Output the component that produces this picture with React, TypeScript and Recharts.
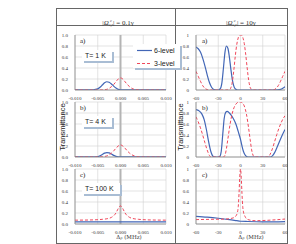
import React from 'react';
import { LineChart, Line, XAxis, YAxis, CartesianGrid, ReferenceLine } from 'recharts';

// ---------- tick labels ----------
const leftXTicks = [-0.01, -0.005, 0, 0.005, 0.01];
const rightXTicks = [-60, -30, 0, 30, 60];
const yTicks = [0, 0.2, 0.4, 0.6, 0.8, 1];
const panelLabels = ['a)', 'b)', 'c)'];
const tempLabels = ['T= 1 K', 'T= 4 K', 'T= 100 K'];
const seriesNames = ['6-level', '3-level'];
const xTitle = 'Δₚ (MHz)';

// ---------- left column (|Ω| = 0.1γ), detuning in MHz ----------
const leftA6x = [-0.01, -0.008, -0.006, -0.005, -0.0045, -0.004, -0.0035, -0.003, -0.0025, -0.002, -0.0015, -0.001, -0.0005, 0, 0.002, 0.005, 0.01];
const leftA6y = [0.002, 0.002, 0.004, 0.02, 0.05, 0.09, 0.13, 0.15, 0.14, 0.11, 0.07, 0.035, 0.012, 0.004, 0.002, 0.002, 0.002];
const leftA3x = [-0.01, -0.005, -0.004, -0.003, -0.0025, -0.002, -0.0015, -0.001, -0.0005, 0, 0.0005, 0.001, 0.0015, 0.002, 0.0025, 0.003, 0.004, 0.005, 0.01];
const leftA3y = [0, 0, 0.002, 0.012, 0.03, 0.06, 0.1, 0.15, 0.2, 0.22, 0.2, 0.15, 0.1, 0.06, 0.03, 0.012, 0.002, 0, 0];

const leftB6x = [-0.01, -0.006, -0.005, -0.0045, -0.004, -0.0035, -0.003, -0.0025, -0.002, -0.0015, -0.001, -0.0005, 0, 0.01];
const leftB6y = [0.002, 0.002, 0.008, 0.02, 0.045, 0.07, 0.08, 0.075, 0.055, 0.03, 0.012, 0.004, 0.002, 0.002];
const leftB3x = [-0.01, -0.005, -0.004, -0.003, -0.0025, -0.002, -0.0015, -0.001, -0.0005, 0, 0.0005, 0.001, 0.0015, 0.002, 0.0025, 0.003, 0.004, 0.005, 0.01];
const leftB3y = [0, 0.001, 0.005, 0.02, 0.04, 0.07, 0.11, 0.16, 0.2, 0.22, 0.2, 0.16, 0.11, 0.07, 0.04, 0.02, 0.005, 0.001, 0];

const leftC6x = [-0.01, -0.005, 0, 0.005, 0.01];
const leftC6y = [0.04, 0.04, 0.038, 0.038, 0.038];
const leftC3x = [-0.01, -0.006, -0.004, -0.003, -0.002, -0.0015, -0.001, -0.0005, 0, 0.0005, 0.001, 0.0015, 0.002, 0.003, 0.004, 0.006, 0.01];
const leftC3y = [0.07, 0.075, 0.085, 0.095, 0.12, 0.15, 0.2, 0.28, 0.33, 0.28, 0.2, 0.15, 0.12, 0.095, 0.085, 0.075, 0.07];

// ---------- right column (|Ω| = 10γ), detuning in MHz ----------
const rightA6x = [-60, -57, -54, -51, -48, -45, -42, -39, -36, -33, -30, -27, -25, -23, -21, -19, -17, -15, -13, -11, -9, -7, -5, -3, 0, 20, 40, 50, 54, 57, 60];
const rightA6y = [0.78, 0.75, 0.69, 0.58, 0.44, 0.28, 0.14, 0.05, 0.01, 0, 0, 0.03, 0.14, 0.4, 0.68, 0.8, 0.76, 0.6, 0.38, 0.19, 0.07, 0.02, 0.005, 0, 0, 0, 0, 0.002, 0.01, 0.03, 0.06];
const rightA3x = [-60, -57, -54, -51, -48, -45, -42, -40, -20, -15, -13, -11, -9, -7, -5, -3, -1, 0, 1, 3, 5, 7, 9, 11, 13, 15, 17, 20, 40, 45, 48, 51, 54, 57, 60];
const rightA3y = [0.34, 0.25, 0.16, 0.08, 0.03, 0.008, 0, 0, 0, 0.005, 0.04, 0.15, 0.36, 0.62, 0.83, 0.95, 1.0, 1.0, 1.0, 0.96, 0.85, 0.65, 0.4, 0.18, 0.05, 0.01, 0, 0, 0, 0.005, 0.03, 0.08, 0.16, 0.25, 0.34];

const rightB6x = [-60, -56, -52, -49, -46, -43, -40, -38, -36, -30, -28, -26, -24, -22, -20, -18, -15, -12, -9, -6, -3, 0, 2, 4, 6, 8, 10, 40, 43, 46, 50, 55, 60];
const rightB6y = [0.86, 0.84, 0.78, 0.68, 0.5, 0.28, 0.1, 0.03, 0.005, 0, 0.01, 0.1, 0.4, 0.7, 0.81, 0.83, 0.8, 0.75, 0.68, 0.59, 0.46, 0.32, 0.2, 0.1, 0.04, 0.01, 0, 0, 0.02, 0.08, 0.2, 0.36, 0.5];
const rightB3x = [-60, -57, -54, -51, -48, -45, -42, -40, -23, -21, -19, -17, -14, -11, -8, -5, -2, 0, 2, 5, 8, 11, 13, 15, 17, 19, 37, 40, 43, 46, 49, 52, 55, 58, 60];
const rightB3y = [0.73, 0.64, 0.53, 0.4, 0.26, 0.13, 0.03, 0, 0, 0.03, 0.15, 0.33, 0.6, 0.8, 0.92, 0.98, 1.0, 1.0, 0.99, 0.93, 0.78, 0.52, 0.32, 0.13, 0.03, 0, 0, 0.05, 0.15, 0.28, 0.41, 0.53, 0.63, 0.71, 0.75];

const rightC6x = [-60, -45, -30, -15, -5, 0, 10, 30, 45, 60];
const rightC6y = [0.14, 0.125, 0.105, 0.08, 0.06, 0.05, 0.045, 0.04, 0.04, 0.045];
const rightC3x = [-60, -40, -20, -10, -6, -4, -3, -2, -1, 0, 1, 2, 3, 4, 6, 10, 20, 40, 60];
const rightC3y = [0.08, 0.085, 0.09, 0.11, 0.15, 0.22, 0.32, 0.55, 0.85, 1.0, 0.85, 0.55, 0.32, 0.22, 0.14, 0.08, 0.06, 0.07, 0.09];

// ---------- helpers ----------
type Row = { x: number; six?: number; three?: number };
function merge(x6: number[], y6: number[], x3: number[], y3: number[]): Row[] {
  const map = new Map<number, Row>();
  x6.forEach((x, i) => {
    const r = map.get(x) || { x };
    r.six = y6[i];
    map.set(x, r);
  });
  x3.forEach((x, i) => {
    const r = map.get(x) || { x };
    r.three = y3[i];
    map.set(x, r);
  });
  return Array.from(map.values()).sort((a, b) => a.x - b.x);
}

const BLUE = '#4266b6';
const RED = '#f0475a';
const SHADOW = '#a9bdd4';
const FRAME = '#666';

const M_TOP = 4;
const X_H = 8;
const Y_W = 18;
const M_RIGHT = 10;
const PLOT_H = 55;
const PANEL_TOPS = [35, 102, 169];
const LEFT_PLOT_X = 75;
const LEFT_PLOT_W = 91;
const RIGHT_PLOT_X = 196;
const RIGHT_PLOT_W = 89;

const tickStyle = { fontSize: 5, fontFamily: 'Liberation Serif', fill: '#333' };

type PanelProps = {
  plotX: number;
  plotY: number;
  plotW: number;
  data: Row[];
  xDomain: [number, number];
  xTicks: number[];
  xFmt: (v: number) => string;
  yFmt: (v: number) => string;
  zeroLine: boolean;
};

function Panel({ plotX, plotY, plotW, data, xDomain, xTicks, xFmt, yFmt, zeroLine }: PanelProps) {
  return (
    <div style={{ position: 'absolute', left: plotX - Y_W, top: plotY - M_TOP }}>
      <LineChart
        width={Y_W + plotW + M_RIGHT}
        height={M_TOP + PLOT_H + X_H + 4}
        data={data}
        margin={{ top: M_TOP, right: M_RIGHT, bottom: 4, left: 0 }}
      >
        <CartesianGrid stroke="#d0d0d0" strokeWidth={0.6} />
        {zeroLine && <ReferenceLine x={0} stroke="#b4b4b4" strokeWidth={2} />}
        <XAxis
          dataKey="x"
          type="number"
          domain={xDomain}
          ticks={xTicks}
          tickFormatter={xFmt}
          interval={0}
          height={X_H}
          tick={tickStyle}
          tickLine={false}
          tickMargin={0}
          axisLine={{ stroke: '#888', strokeWidth: 0.8 }}
          allowDataOverflow
        />
        <YAxis
          type="number"
          domain={[0, 1]}
          ticks={yTicks}
          tickFormatter={yFmt}
          interval={0}
          width={Y_W}
          tick={tickStyle}
          tickLine={false}
          tickMargin={1}
          axisLine={{ stroke: '#888', strokeWidth: 0.8 }}
          allowDataOverflow
        />
        <Line
          dataKey="six"
          type="monotone"
          stroke={BLUE}
          strokeWidth={1.2}
          dot={false}
          connectNulls
          isAnimationActive={false}
        />
        <Line
          dataKey="three"
          type="monotone"
          stroke={RED}
          strokeWidth={1}
          strokeDasharray="3 2"
          dot={false}
          connectNulls
          isAnimationActive={false}
        />
      </LineChart>
    </div>
  );
}

const leftData = [
  merge(leftA6x, leftA6y, leftA3x, leftA3y),
  merge(leftB6x, leftB6y, leftB3x, leftB3y),
  merge(leftC6x, leftC6y, leftC3x, leftC3y),
];
const rightData = [
  merge(rightA6x, rightA6y, rightA3x, rightA3y),
  merge(rightB6x, rightB6y, rightB3x, rightB3y),
  merge(rightC6x, rightC6y, rightC3x, rightC3y),
];

const leftXFmt = (v: number) => v.toFixed(3);
const rightXFmt = (v: number) => String(v);
const leftYFmt = (v: number) => v.toFixed(1);
const rightYFmt = (v: number) => String(v);

function Omega({ value }: { value: string }) {
  return (
    <span style={{ fontFamily: 'Liberation Serif', fontSize: 7, color: '#333', whiteSpace: 'nowrap' }}>
      |<span style={{ fontStyle: 'italic' }}>Ω</span>
      <span
        style={{
          display: 'inline-flex',
          flexDirection: 'column',
          fontSize: 4,
          lineHeight: '4px',
          verticalAlign: 'middle',
          fontStyle: 'italic',
        }}
      >
        <span>c</span>
        <span>c,r</span>
      </span>
      | = {value}γ
    </span>
  );
}

function AxisTitle({ cx }: { cx: number }) {
  return (
    <div
      style={{
        position: 'absolute',
        left: cx - 20,
        top: 234,
        width: 40,
        height: 7,
        lineHeight: '7px',
        textAlign: 'center',
        fontFamily: 'DejaVu Serif',
        fontSize: 5.5,
        color: '#333',
        whiteSpace: 'nowrap',
      }}
    >
      {xTitle}
    </div>
  );
}

function TBox({ left, top, width, text }: { left: number; top: number; width: number; text: string }) {
  return (
    <div
      style={{
        position: 'absolute',
        left,
        top,
        width,
        height: 11,
        background: '#fff',
        boxShadow: `2px 2px 0 ${SHADOW}`,
        fontFamily: 'Liberation Sans',
        fontSize: 7,
        lineHeight: '11px',
        color: '#222',
        paddingLeft: 3,
        boxSizing: 'border-box',
        whiteSpace: 'nowrap',
      }}
    >
      {text}
    </div>
  );
}

export default function App() {
  const line = (s: React.CSSProperties) => (
    <div style={{ position: 'absolute', background: FRAME, ...s }} />
  );
  return (
    <div
      style={{
        position: 'absolute',
        left: 0,
        top: 0,
        width: 296,
        height: 244,
        background: '#fff',
        overflow: 'hidden',
      }}
    >
      {/* table frame */}
      {line({ left: 56, top: 8, width: 232, height: 1 })}
      {line({ left: 56, top: 25, width: 232, height: 1 })}
      {line({ left: 56, top: 8, width: 1, height: 236 })}
      {line({ left: 175, top: 8, width: 1, height: 236 })}
      {line({ left: 287, top: 8, width: 1, height: 236 })}
      {line({ left: 56, top: 243, width: 232, height: 1 })}

      <div style={{ position: 'absolute', left: 76, top: 11, width: 84, textAlign: 'center' }}>
        <Omega value="0.1" />
      </div>
      <div style={{ position: 'absolute', left: 199, top: 11, width: 84, textAlign: 'center' }}>
        <Omega value="10" />
      </div>

      {PANEL_TOPS.map((t, i) => (
        <Panel
          key={'l' + i}
          plotX={LEFT_PLOT_X}
          plotY={t}
          plotW={LEFT_PLOT_W}
          data={leftData[i]}
          xDomain={[-0.01, 0.01]}
          xTicks={leftXTicks}
          xFmt={leftXFmt}
          yFmt={leftYFmt}
          zeroLine={true}
        />
      ))}
      {PANEL_TOPS.map((t, i) => (
        <Panel
          key={'r' + i}
          plotX={RIGHT_PLOT_X}
          plotY={t}
          plotW={RIGHT_PLOT_W}
          data={rightData[i]}
          xDomain={[-60, 60]}
          xTicks={rightXTicks}
          xFmt={rightXFmt}
          yFmt={rightYFmt}
          zeroLine={false}
        />
      ))}

      {/* panel labels */}
      {PANEL_TOPS.map((t, i) => (
        <React.Fragment key={'pl' + i}>
          <div style={{ position: 'absolute', left: 80, top: t + 2, fontFamily: 'Liberation Serif', fontSize: 7, color: '#222' }}>
            {panelLabels[i]}
          </div>
          <div style={{ position: 'absolute', left: 202, top: t + 2, fontFamily: 'Liberation Serif', fontSize: 7, color: '#222' }}>
            {panelLabels[i]}
          </div>
        </React.Fragment>
      ))}

      {/* temperature boxes */}
      <TBox left={82} top={PANEL_TOPS[0] + 15} width={30} text={tempLabels[0]} />
      <TBox left={82} top={PANEL_TOPS[1] + 14} width={30} text={tempLabels[1]} />
      <TBox left={82} top={PANEL_TOPS[2] + 14} width={38} text={tempLabels[2]} />

      {/* y titles */}
      {[63, 181].map((x) => (
        <div
          key={'yt' + x}
          style={{
            position: 'absolute',
            left: x - 30,
            top: 127 - 5,
            width: 60,
            height: 10,
            lineHeight: '10px',
            textAlign: 'center',
            transform: 'rotate(-90deg)',
            fontFamily: 'Liberation Sans',
            fontSize: 7.5,
            color: '#222',
          }}
        >
          Transmittance
        </div>
      ))}

      <AxisTitle cx={129} />
      <AxisTitle cx={251} />

      {/* legend */}
      <div
        style={{
          position: 'absolute',
          left: 133,
          top: 44,
          width: 47,
          height: 24,
          background: '#fff',
          boxShadow: `2px 2px 0 ${SHADOW}`,
          fontFamily: 'Liberation Sans',
          fontSize: 7,
          color: '#222',
        }}
      >
        <svg width={47} height={24} style={{ position: 'absolute', left: 0, top: 0 }}>
          <line x1={4} y1={6.5} x2={19} y2={6.5} stroke={BLUE} strokeWidth={1.2} />
          <line x1={4} y1={19.5} x2={19} y2={19.5} stroke={RED} strokeWidth={1} strokeDasharray="3 2" />
        </svg>
        <div style={{ position: 'absolute', left: 21, top: 2, lineHeight: '9px', whiteSpace: 'nowrap' }}>{seriesNames[0]}</div>
        <div style={{ position: 'absolute', left: 21, top: 15, lineHeight: '9px', whiteSpace: 'nowrap' }}>{seriesNames[1]}</div>
      </div>
    </div>
  );
}
